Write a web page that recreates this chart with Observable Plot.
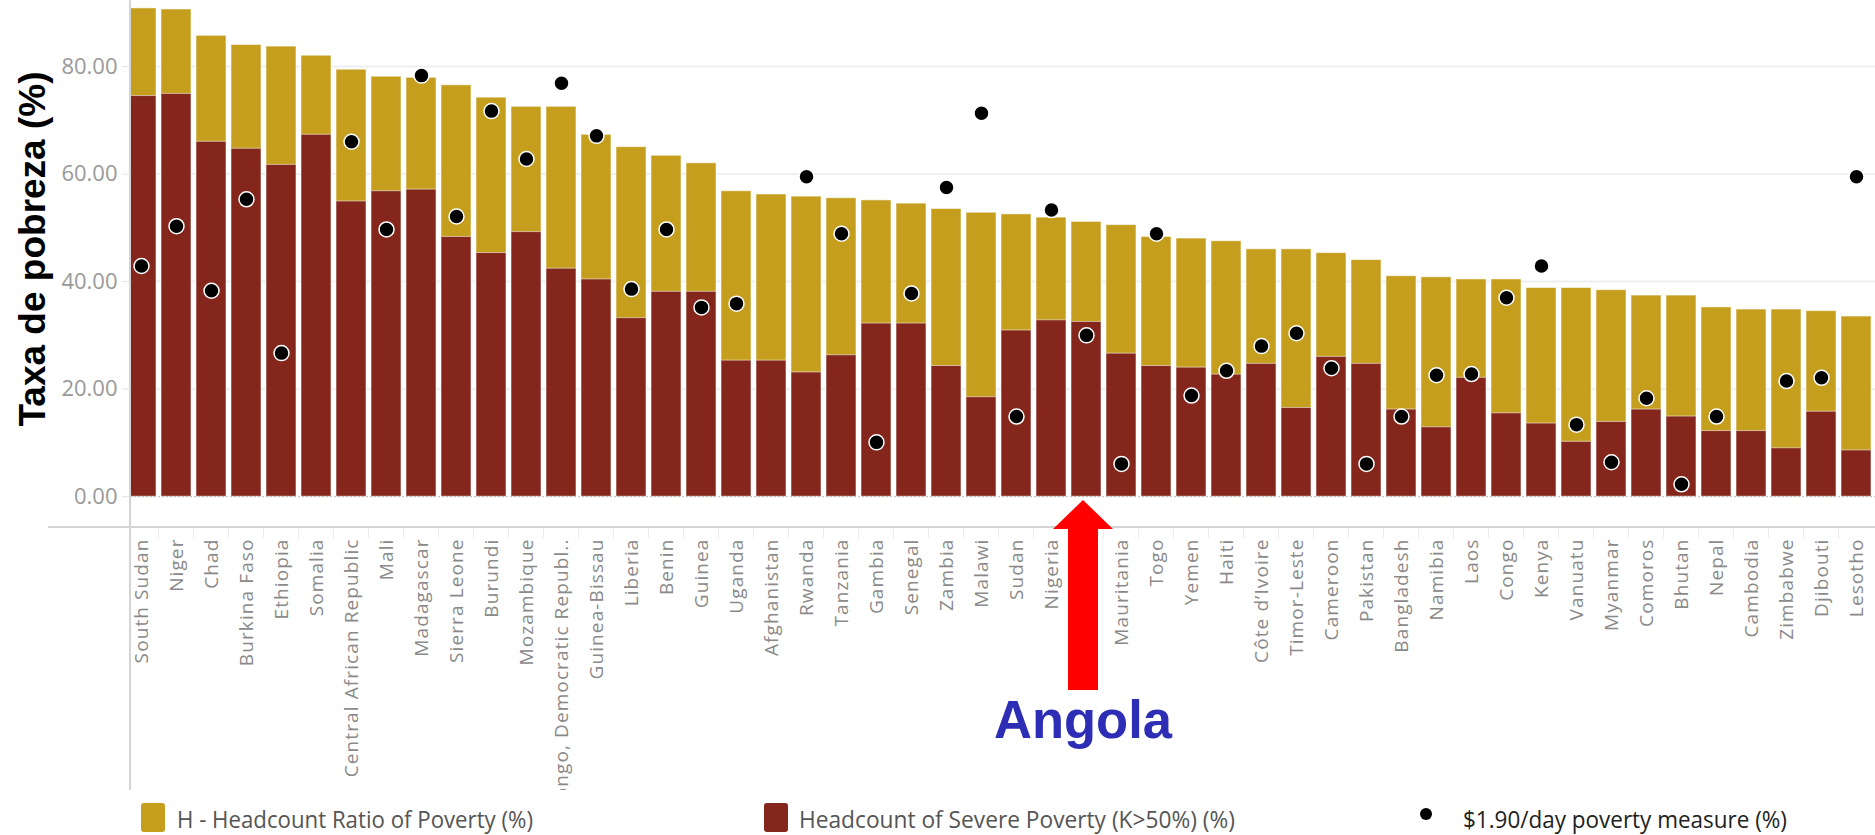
<!DOCTYPE html>
<html><head><meta charset="utf-8">
<script src="https://cdn.jsdelivr.net/npm/d3@7"></script>
<script src="https://cdn.jsdelivr.net/npm/@observablehq/plot@0.6"></script>
<style>
body{margin:0;background:#fff;}
#wrap{position:relative;width:1875px;height:835px;overflow:hidden;background:#fff;}
#wrap svg{display:block;}
</style></head><body><div id="wrap"></div>
<script>
const countries = ["South Sudan","Niger","Chad","Burkina Faso","Ethiopia","Somalia","Central African Republic","Mali","Madagascar","Sierra Leone","Burundi","Mozambique","Congo, Democratic Republ..","Guinea-Bissau","Liberia","Benin","Guinea","Uganda","Afghanistan","Rwanda","Tanzania","Gambia","Senegal","Zambia","Malawi","Sudan","Nigeria","Angola","Mauritania","Togo","Yemen","Haiti","Côte d’Ivoire","Timor-Leste","Cameroon","Pakistan","Bangladesh","Namibia","Laos","Congo","Kenya","Vanuatu","Myanmar","Comoros","Bhutan","Nepal","Cambodia","Zimbabwe","Djibouti","Lesotho"];
const headcount = [90.8,90.6,85.7,84.0,83.7,82.0,79.4,78.1,77.9,76.5,74.2,72.5,72.5,67.3,65.0,63.4,62.0,56.8,56.2,55.8,55.5,55.1,54.5,53.5,52.8,52.5,51.9,51.1,50.5,48.3,48.0,47.5,46.0,46.0,45.3,44.0,41.0,40.8,40.4,40.4,38.8,38.8,38.4,37.4,37.4,35.2,34.8,34.8,34.5,33.5];
const severe = [74.5,74.9,66.0,64.7,61.7,67.3,54.9,56.8,57.1,48.3,45.3,49.2,42.4,40.4,33.2,38.1,38.1,25.3,25.3,23.1,26.3,32.2,32.2,24.3,18.5,30.9,32.8,32.5,26.6,24.3,24.0,22.7,24.7,16.5,26.0,24.7,16.2,12.9,22.1,15.5,13.6,10.2,13.9,16.2,14.9,12.2,12.2,9.0,15.8,8.6];
const dollar = [42.9,50.3,38.3,55.3,26.7,null,66.0,49.7,78.3,52.1,71.7,62.8,76.9,67.1,38.6,49.7,35.2,35.9,null,59.5,48.9,10.1,37.8,57.5,71.3,14.9,53.3,30.0,6.1,48.9,18.8,23.4,28.0,30.4,23.9,6.1,14.9,22.6,22.8,37.0,42.9,13.4,6.4,18.3,2.3,14.9,null,21.5,22.1,59.5];
const yTicks = [0,20,40,60,80];
const legendLabels = ["H - Headcount Ratio of Poverty (%)","Headcount of Severe Poverty (K>50%) (%)","$1.90/day poverty measure (%)"];
const yTitle = "Taxa de pobreza (%)";
const highlight = "Angola";

const gold = "#C49E1C", red = "#84261B";
const rows = countries.map((c,i)=>({country:c, H:headcount[i], S:severe[i], D:dollar[i]}));

const plot = Plot.plot({
  width:1875, height:790, marginLeft:130, marginRight:0, marginTop:0, marginBottom:263,
  style:{fontFamily:"'Open Sans', sans-serif", background:"#fff", overflow:"hidden"},
  x:{domain:countries, range:[119,1879], paddingInner:0.14, paddingOuter:0.07, label:null},
  y:{domain:[-5.73,92.27], label:null},
  marks:[
    Plot.ruleY(yTicks.filter(d=>d>0),{stroke:"#efefef", strokeWidth:2}),
    Plot.barY(rows,{x:"country", y:"H", fill:gold, stroke:"#fff", strokeOpacity:0.55, strokeWidth:1, clip:true}),
    Plot.barY(rows,{x:"country", y:"S", fill:red, stroke:"#fff", strokeOpacity:0.55, strokeWidth:1, clip:true}),
    Plot.ruleY([0],{stroke:"#bbb", strokeDasharray:"2,2", strokeWidth:1}),
    Plot.dot(rows.filter(d=>d.D!=null),{x:"country", y:"D", r:7.5, fill:"#000", stroke:"#fff", strokeWidth:1.5, clip:true}),
    Plot.axisY({ticks:yTicks, tickFormat:d3.format(".2f"), tickSize:8, tickPadding:5, fontSize:22, stroke:"#e3e3e3", fill:"#999", label:null}),
    Plot.axisX({tickRotate:-90, tickSize:0, tickPadding:11, fontSize:19, fill:"#8a8a8a", label:null})
  ]
});
document.getElementById("wrap").appendChild(plot);
const svg = d3.select(plot);
svg.selectAll('g[aria-label="x-axis tick label"] text').style("letter-spacing","1.1px");

const xs = plot.scale("x");
const bw = xs.bandwidth, step = xs.step || (bw/0.86);
const g = svg.append("g");
countries.forEach(c=>{
  const x0 = xs.apply(c) + bw/2 - step/2;
  if (x0 > 131) g.append("line").attr("x1",x0).attr("x2",x0).attr("y1",528).attr("y2",538).attr("stroke","#ececec").attr("stroke-width",1);
});
g.append("line").attr("x1",130).attr("x2",130).attr("y1",0).attr("y2",790).attr("stroke","#d4d4d4").attr("stroke-width",2);
g.append("line").attr("x1",48).attr("x2",1875).attr("y1",527).attr("y2",527).attr("stroke","#d4d4d4").attr("stroke-width",2);
svg.append("text").attr("transform","translate(45,249) rotate(-90)").attr("text-anchor","middle")
  .attr("font-family","'Liberation Sans', Arial, sans-serif").attr("font-weight","bold").attr("font-size",37).attr("fill","#000").text(yTitle);
const cx = xs.apply(highlight) + bw/2 - 3;
svg.append("polygon").attr("points",[[cx,500],[cx+30,529],[cx+15,529],[cx+15,690],[cx-15,690],[cx-15,529],[cx-30,529]].map(p=>p.join(",")).join(" ")).attr("fill","#FF0000");
svg.append("text").attr("x",cx).attr("y",738).attr("text-anchor","middle").attr("font-family","'Liberation Sans', Arial, sans-serif")
  .attr("font-weight","bold").attr("font-size",53).attr("fill","#2D2DB5").attr("textLength",178).attr("lengthAdjust","spacingAndGlyphs").text(highlight);

const leg = d3.select("#wrap").append("svg").attr("width",1875).attr("height",45).style("font-family","'Liberation Sans Narrow','Open Sans',sans-serif");
leg.append("rect").attr("x",141).attr("y",13).attr("width",24).attr("height",29).attr("rx",3).attr("fill",gold);
leg.append("text").attr("x",177).attr("y",38).attr("font-size",24).attr("fill","#555").attr("textLength",356).attr("lengthAdjust","spacingAndGlyphs").text(legendLabels[0]);
leg.append("rect").attr("x",764).attr("y",13).attr("width",24).attr("height",29).attr("rx",3).attr("fill",red);
leg.append("text").attr("x",799).attr("y",38).attr("font-size",24).attr("fill","#555").attr("textLength",436).attr("lengthAdjust","spacingAndGlyphs").text(legendLabels[1]);
leg.append("circle").attr("cx",1426).attr("cy",24).attr("r",6).attr("fill","#000");
leg.append("text").attr("x",1463).attr("y",38).attr("font-size",24).attr("fill","#222").attr("textLength",324).attr("lengthAdjust","spacingAndGlyphs").text(legendLabels[2]);
</script></body></html>
